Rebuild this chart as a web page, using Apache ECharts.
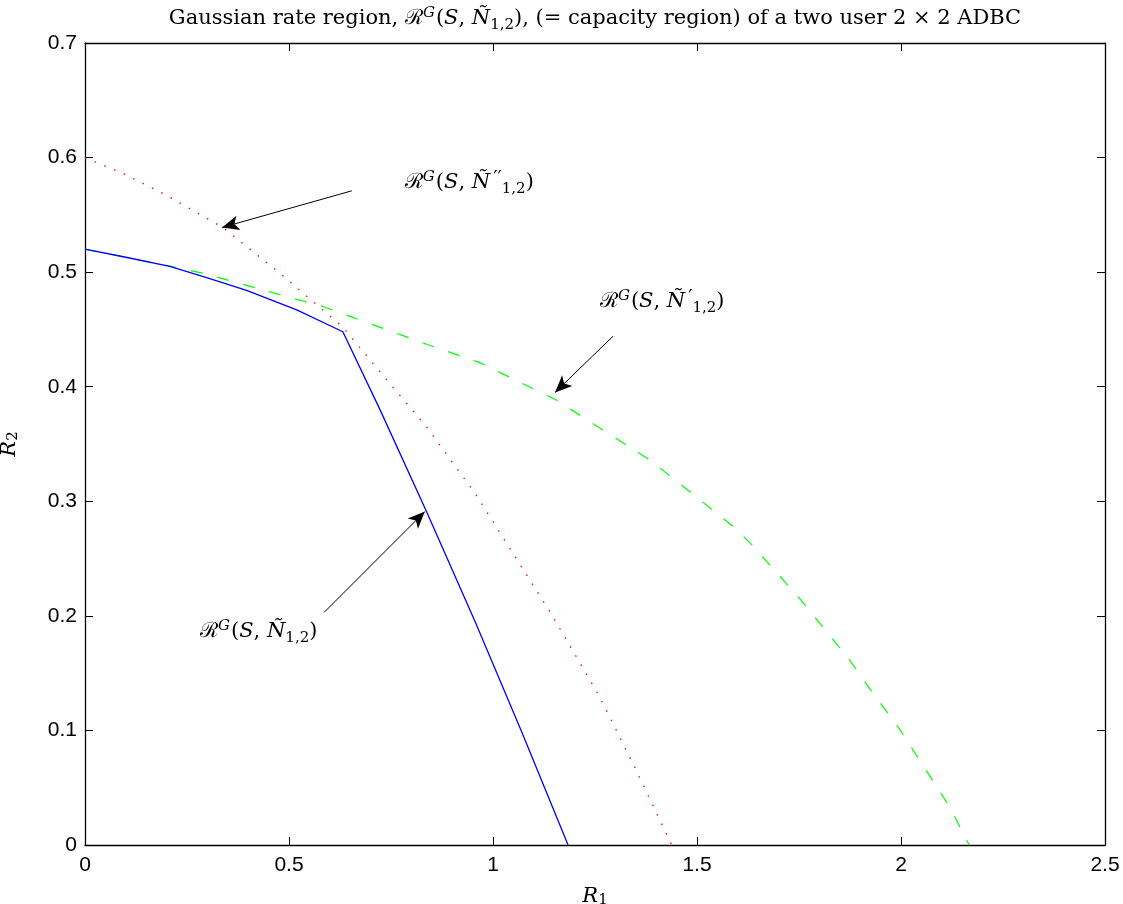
<!DOCTYPE html>
<html>
<head>
<meta charset="utf-8">
<script src="https://cdn.jsdelivr.net/npm/echarts@6/dist/echarts.min.js"></script>
<style>
html,body{margin:0;padding:0;background:#fff;}
#chart{width:1123px;height:904px;}
</style>
</head>
<body>
<div id="chart"></div>
<script>
// ---- data ----
const xTicks = [0, 0.5, 1, 1.5, 2, 2.5];
const yTicks = [0, 0.1, 0.2, 0.3, 0.4, 0.5, 0.6, 0.7];

// R^G(S, N_{1,2}) (blue solid)
const blueX = [0, 0.1, 0.208, 0.3, 0.396, 0.519, 0.632, 0.723, 0.837, 0.956, 1.07, 1.184];
const blueY = [0.520, 0.513, 0.505, 0.495, 0.484, 0.467, 0.448, 0.380, 0.291, 0.195, 0.099, 0];

// R^G(S, N'_{1,2}) (green dashed)
const greenX = [0, 0.1, 0.21, 0.29, 0.583, 0.846, 0.968, 1.152, 1.385, 1.589, 1.632, 1.752, 1.875, 1.932, 1.993, 2.12, 2.167];
const greenY = [0.520, 0.513, 0.505, 0.499, 0.470, 0.436, 0.421, 0.389, 0.336, 0.278, 0.263, 0.215, 0.161, 0.132, 0.103, 0.033, 0];

// R^G(S, N''_{1,2}) (red dotted)
const redX = [0, 0.1, 0.2, 0.338, 0.478, 0.632, 0.723, 0.837, 0.956, 1.050, 1.144, 1.262, 1.35, 1.438];
const redY = [0.600, 0.585, 0.567, 0.539, 0.499, 0.452, 0.413, 0.365, 0.307, 0.254, 0.201, 0.129, 0.066, 0];

// annotation arrows: [tailX, tailY, tipX, tipY]
const arrowDbl = [0.654, 0.571, 0.336, 0.539];
const arrowPrime = [1.294, 0.444, 1.152, 0.395];
const arrowPlain = [0.586, 0.203, 0.833, 0.291];

// annotation text anchors (left, middle) in data units
const labelDbl = [0.784, 0.578];
const labelPrime = [1.262, 0.474];
const labelPlain = [0.282, 0.186];

// ---- chart ----
const zip = (xs, ys) => xs.map((x, i) => [x, ys[i]]);
const chart = echarts.init(document.getElementById('chart'));

const serif = "'DejaVu Serif', 'Liberation Serif', serif";
const sans = "'Liberation Sans', Arial, sans-serif";

const mathRich = (size) => ({
  m: {fontFamily: serif, fontSize: size, color: '#000'},
  i: {fontFamily: serif, fontSize: size, fontStyle: 'italic', color: '#000'},
  c: {fontFamily: "'DejaVu Serif', serif", fontSize: size, color: '#000'},
  sup: {fontFamily: serif, fontSize: Math.round(size * 0.7), fontStyle: 'italic', color: '#000', verticalAlign: 'top', padding: [0, 1, Math.round(size*0.55), 0]},
  pr: {fontFamily: serif, fontSize: Math.round(size * 0.9), color: '#000', verticalAlign: 'top', padding: [0, 0, Math.round(size*0.4), 3]},
  sub: {fontFamily: serif, fontSize: Math.round(size * 0.7), color: '#000', verticalAlign: 'bottom', padding: [Math.round(size*0.4), 0, 0, 0]}
});

const arrowLine = (a) => [
  {coord: [a[0], a[1]], symbol: 'none'},
  {coord: [a[2], a[3]], symbol: 'arrow', symbolSize: [11, 17]}
];

const axisCommon = {
  type: 'value',
  axisLine: {show: true, onZero: false, lineStyle: {color: '#000', width: 1.3}},
  axisTick: {show: true, inside: true, length: 8, lineStyle: {color: '#000', width: 1}},
  splitLine: {show: false}
};

chart.setOption({
  animation: false,
  backgroundColor: '#fff',
  grid: {left: 85, right: 18, top: 43, bottom: 59, containLabel: false, outerBoundsMode: 'none'},
  xAxis: [
    Object.assign({}, axisCommon, {
      min: 0, max: 2.5, interval: 0.5, position: 'bottom',
      axisLabel: {color: '#000', fontFamily: sans, fontSize: 21, margin: 10,
        formatter: v => String(xTicks.find(t => Math.abs(t - v) < 1e-9) ?? v)},
      name: '{i|R}{sub|1}', nameLocation: 'middle', nameGap: 40,
      nameTextStyle: {rich: mathRich(21)}
    }),
    Object.assign({}, axisCommon, {
      min: 0, max: 2.5, interval: 0.5, position: 'top', axisLabel: {show: false}
    })
  ],
  yAxis: [
    Object.assign({}, axisCommon, {
      min: 0, max: 0.7, interval: 0.1, position: 'left',
      axisLabel: {color: '#000', fontFamily: sans, fontSize: 21, margin: 8,
        formatter: v => String(yTicks.find(t => Math.abs(t - v) < 1e-9) ?? v)},
      name: '{i|R}{sub|2}', nameLocation: 'middle', nameGap: 64, nameRotate: 90,
      nameTextStyle: {rich: mathRich(21)}
    }),
    Object.assign({}, axisCommon, {
      min: 0, max: 0.7, interval: 0.1, position: 'right', axisLabel: {show: false}
    })
  ],
  series: [
    {
      type: 'line', name: 'green', data: zip(greenX, greenY), showSymbol: false,
      lineStyle: {color: '#00ff00', width: 1.2, type: [12, 15]}, silent: true, z: 2
    },
    {
      type: 'line', name: 'red', data: zip(redX, redY), showSymbol: false,
      lineStyle: {color: '#ff0000', width: 1.3, type: [1.5, 9]}, silent: true, z: 3
    },
    {
      type: 'line', name: 'blue', data: zip(blueX, blueY), showSymbol: false,
      lineStyle: {color: '#0000ff', width: 1.3}, silent: true, z: 4,
      markLine: {
        silent: true, animation: false,
        label: {show: false},
        lineStyle: {color: '#000', width: 1, type: 'solid'},
        emphasis: {disabled: true},
        data: [arrowLine(arrowDbl), arrowLine(arrowPrime), arrowLine(arrowPlain)]
      }
    }
  ]
});

const px = (p) => chart.convertToPixel({xAxisIndex: 0, yAxisIndex: 0}, p);
const annText = (p, txt) => {
  const q = px(p);
  return {
    type: 'text', x: q[0], y: q[1], silent: true,
    style: {text: txt, rich: mathRich(21), textAlign: 'left', textVerticalAlign: 'middle'}
  };
};
const tl = px([0, 0.7]), br = px([2.5, 0]);

chart.setOption({
  graphic: [
    {
      type: 'text', x: (tl[0] + br[0]) / 2, y: 19, silent: true,
      style: {
        text: '{m|Gaussian rate region, }{c|ℛ}{sup|G}{m|(}{i|S}{m|, }{i|Ñ}{sub|1,2}{m|), (= capacity region) of a two user 2 × 2 ADBC}',
        rich: mathRich(21), textAlign: 'center', textVerticalAlign: 'middle'
      }
    },
    annText(labelDbl, '{c|ℛ}{sup|G}{m|(}{i|S}{m|, }{i|Ñ}{pr|′′}{sub|1,2}{m|)}'),
    annText(labelPrime, '{c|ℛ}{sup|G}{m|(}{i|S}{m|, }{i|Ñ}{pr|′}{sub|1,2}{m|)}'),
    annText(labelPlain, '{c|ℛ}{sup|G}{m|(}{i|S}{m|, }{i|Ñ}{sub|1,2}{m|)}')
  ]
});
</script>
</body>
</html>
